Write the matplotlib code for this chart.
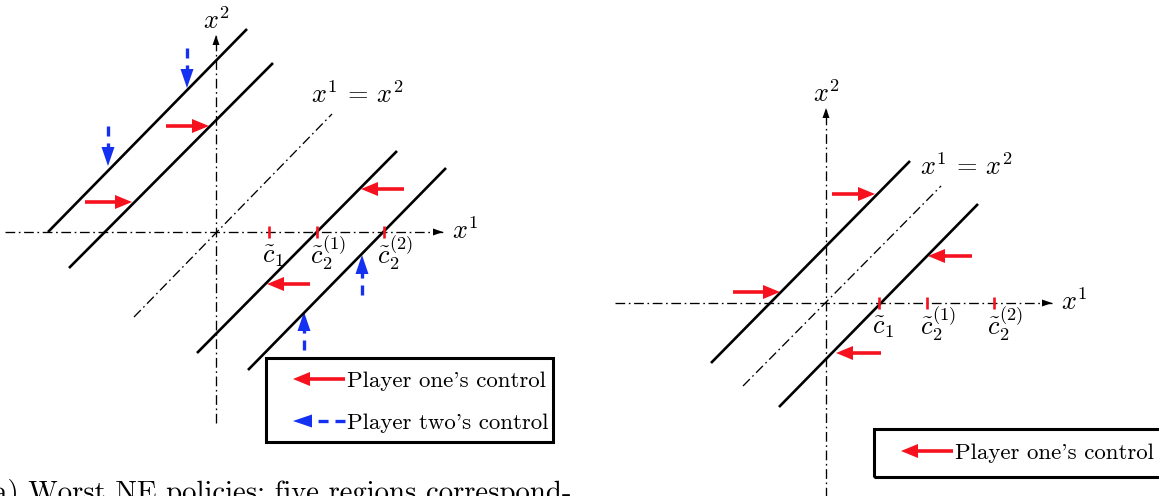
import matplotlib.pyplot as plt
from matplotlib.patches import Rectangle

plt.rcParams['font.family'] = 'cmr10'
plt.rcParams['mathtext.fontset'] = 'cm'
plt.rcParams['lines.scale_dashes'] = False
plt.rcParams['axes.unicode_minus'] = False

RED = '#f5121e'
BLUE = '#1430f0'
DASHDOT = (0, (7, 2.6, 1.2, 2.6))
MATH_SIZE = 19
TEXT_SIZE = 16.5

# thresholds on the x^1 axis, shared by both panels
c_ticks = [53, 101, 168]
c_labels = [r'$\tilde{c}_1$', r'$\tilde{c}_2^{(1)}$', r'$\tilde{c}_2^{(2)}$']

# (a) worst NE policies -- units are pixels, origin where the axes cross
a_xaxis = [-211, 227]
a_yaxis = [-191, 197]
a_lines = [[(-168, 0), (31, 203)], [(-147, -36), (57, 169)],
           [(-19, -121), (181, 81)], [(32, -138), (230, 64)]]
a_diag = [(-82, -85), (116, 118)]
a_red = [[(-131, 30), (-84, 30)], [(-50, 106), (-7, 106)],
         [(188, 43), (145, 43)], [(94, -52), (51, -52)]]
a_blue = [[(-29, 184), (-29, 144)], [(-108, 106), (-108, 66)],
          [(146, -63), (146, -23)], [(88, -118), (88, -80)]]
a_legend_box = [(50, -210), (337, -126)]
a_legend_rows = [-147, -189]
a_legend_text = ["Player one's control", "Player two's control"]

# (b) second panel
b_xaxis = [-211, 226]
b_yaxis = [-200, 195]
b_lines = [[(-115, -60), (84, 142)], [(-47, -104), (152, 99)]]
b_diag = [(-83, -83), (115, 117)]
b_red = [[(6, 109), (49, 109)], [(-93, 11), (-46, 11)],
         [(146, 47), (102, 47)], [(55, -50), (10, -50)]]
b_legend_box = [(48, -174), (360, -126)]
b_legend_rows = [-148]
b_legend_text = ["Player one's control"]

caption = "(a) Worst NE policies: five regions correspond-"


def head(ax, tip, direction, color, hl=17, hw=14):
    dx, dy = direction
    ax.arrow(tip[0] - dx * hl, tip[1] - dy * hl, dx * hl, dy * hl,
             width=0.01, head_width=hw, head_length=hl,
             length_includes_head=True, color=color, lw=0, clip_on=False)


def red_arrow(ax, tail, tip):
    ax.arrow(tail[0], tail[1], tip[0] - tail[0], tip[1] - tail[1],
             width=3.6, head_width=14, head_length=17,
             length_includes_head=True, color=RED, lw=0, clip_on=False)


def blue_arrow(ax, tail, tip):
    dx = tip[0] - tail[0]
    dy = tip[1] - tail[1]
    n = (dx ** 2 + dy ** 2) ** 0.5
    ux, uy = dx / n, dy / n
    ax.plot([tail[0], tip[0] - ux * 17], [tail[1], tip[1] - uy * 17],
            color=BLUE, lw=2.4, ls=(0, (7.2, 5)), solid_capstyle='butt',
            dash_capstyle='butt', clip_on=False)
    head(ax, tip, (ux, uy), BLUE, hl=19, hw=13)


def draw_panel(ax, xaxis, yaxis, lines, diag, reds, blues):
    ax.plot(xaxis, [0, 0], color='k', lw=0.95, ls=DASHDOT)
    ax.plot([0, 0], yaxis, color='k', lw=0.95, ls=DASHDOT, clip_on=False)
    head(ax, (xaxis[1], 0), (1, 0), 'k', hl=10, hw=7)
    head(ax, (0, yaxis[1]), (0, 1), 'k', hl=10, hw=7)
    ax.plot([diag[0][0], diag[1][0]], [diag[0][1], diag[1][1]],
            color='k', lw=0.95, ls=DASHDOT)
    for (x0, y0), (x1, y1) in lines:
        ax.plot([x0, x1], [y0, y1], color='k', lw=1.9, solid_capstyle='butt')
    for t in c_ticks:
        ax.plot([t, t], [-6, 6], color=RED, lw=1.9, solid_capstyle='butt')
    for t, lab in zip(c_ticks, c_labels):
        ax.text(t - 7, -31, lab, fontsize=MATH_SIZE, ha='left', va='baseline')
    for tail, tip in reds:
        red_arrow(ax, tail, tip)
    for tail, tip in blues:
        blue_arrow(ax, tail, tip)
    ax.text(xaxis[1] + 9, -7, r'$x^1$', fontsize=MATH_SIZE, ha='left', va='baseline')
    ax.text(1, yaxis[1] + 6, r'$x^2$', fontsize=MATH_SIZE, ha='center', va='baseline')
    ax.text(diag[1][0] - 21, diag[1][1] + 11, r'$x^1\,=\,x^2$', fontsize=MATH_SIZE,
            ha='left', va='baseline')


def draw_legend(ax, box, rows, texts):
    (x0, y0), (x1, y1) = box
    ax.add_patch(Rectangle((x0, y0), x1 - x0, y1 - y0, fill=False,
                           ec='k', lw=2.2, clip_on=False))
    for i, (y, txt) in enumerate(zip(rows, texts)):
        if i == 0:
            red_arrow(ax, (x0 + 79, y), (x0 + 27, y))
        else:
            blue_arrow(ax, (x0 + 79, y), (x0 + 27, y))
        ax.text(x0 + 81, y - 8, txt, fontsize=TEXT_SIZE, ha='left', va='baseline')


fig = plt.figure(figsize=(11.59, 4.96), dpi=100)

ax_a = fig.add_axes([0, 0, 580 / 1159, 1])
ax_a.set_xlim(-216, 364)
ax_a.set_ylim(-264, 232)
draw_panel(ax_a, a_xaxis, a_yaxis, a_lines, a_diag, a_red, a_blue)
draw_legend(ax_a, a_legend_box, a_legend_rows, a_legend_text)
ax_a.axis('off')

ax_b = fig.add_axes([580 / 1159, 0, 579 / 1159, 1])
ax_b.set_xlim(-246, 333)
ax_b.set_ylim(-193, 303)
draw_panel(ax_b, b_xaxis, b_yaxis, b_lines, b_diag, b_red, [])
draw_legend(ax_b, b_legend_box, b_legend_rows, b_legend_text)
ax_b.axis('off')

# caption of the first sub-figure, running off the bottom and left edges
fig.text(571 / 1159, -5 / 496, caption, fontsize=20.7, ha='right', va='baseline')

fig.savefig('out.png', dpi=100)
